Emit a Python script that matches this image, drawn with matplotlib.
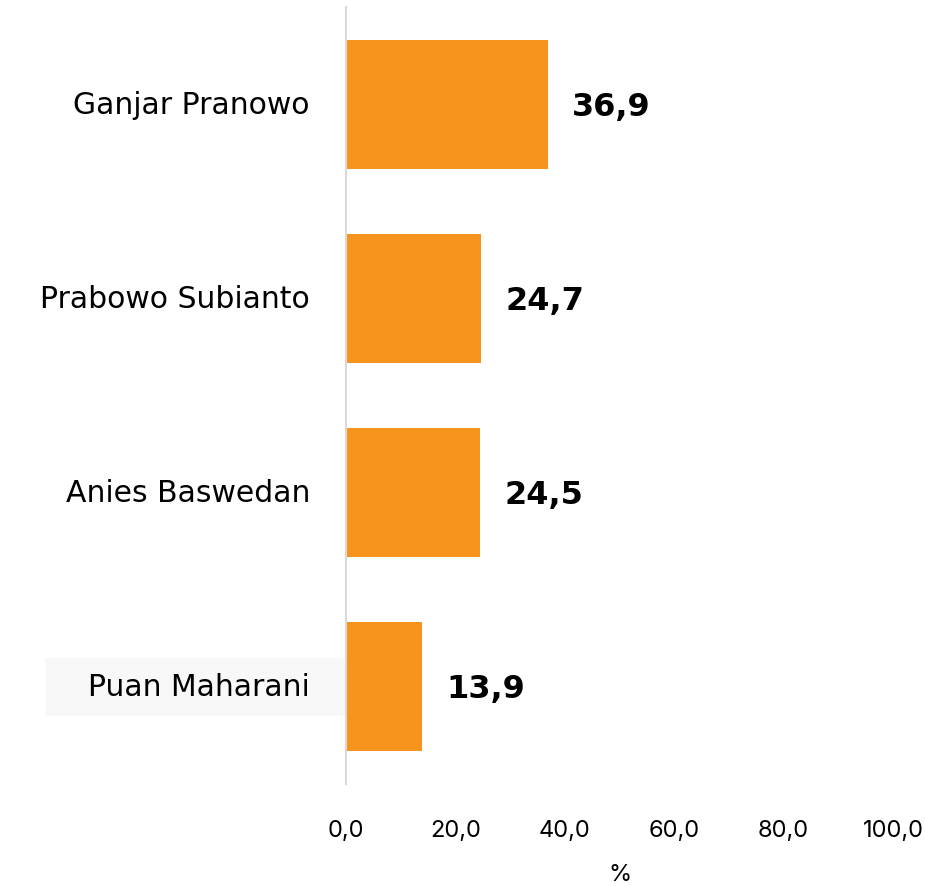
import matplotlib
matplotlib.use("Agg")
import matplotlib.pyplot as plt
import matplotlib.transforms as mtransforms
from matplotlib.patches import Rectangle

categories = ["Ganjar Pranowo", "Prabowo Subianto", "Anies Baswedan", "Puan Maharani"]
values = [36.9, 24.7, 24.5, 13.9]
value_labels = ["36,9", "24,7", "24,5", "13,9"]
xticks = [0, 20, 40, 60, 80, 100]
xtick_labels = ["0,0", "20,0", "40,0", "60,0", "80,0", "100,0"]

plt.rcParams['font.family'] = ['DejaVu Sans']

fig = plt.figure(figsize=(9.25, 8.87), dpi=100)
ax = fig.add_axes([346/925, 1-785/887, 547/925, 777/887])

ypos = list(range(len(categories)))
ax.barh(ypos, values, height=0.665, color="#F7941D")
ax.set_ylim(len(categories)-0.5, -0.5)
ax.set_xlim(0, 100)

for y, v, lab in zip(ypos, values, value_labels):
    ax.annotate(lab, (v, y), xytext=(24, -2), textcoords="offset pixels",
                ha="left", va="center", fontsize=23, fontweight="bold", color="black")

ax.set_yticks(ypos)
ax.set_yticklabels(categories, fontsize=21.5, va="center")
ax.set_xticks(xticks)
ax.set_xticklabels(xtick_labels, fontsize=17, family=['Inter', 'DejaVu Sans'])
ax.tick_params(axis="y", length=0, pad=26)
ax.tick_params(axis="x", length=0, pad=25)
ax.set_xlabel("%", fontsize=17, labelpad=16, family=['Inter', 'DejaVu Sans'])

for s in ["top", "right", "bottom"]:
    ax.spines[s].set_visible(False)
ax.spines["left"].set_color("#D9D9D9")
ax.spines["left"].set_linewidth(1.5)

# light highlight behind last category label
trans = mtransforms.blended_transform_factory(ax.transAxes, ax.transData)
ax.add_patch(Rectangle((-0.55, 3 - 0.15), 0.548, 0.30, transform=trans,
                       facecolor="#F8F8F8", edgecolor="none", clip_on=False, zorder=0))

fig.savefig("out.png", dpi=100)
